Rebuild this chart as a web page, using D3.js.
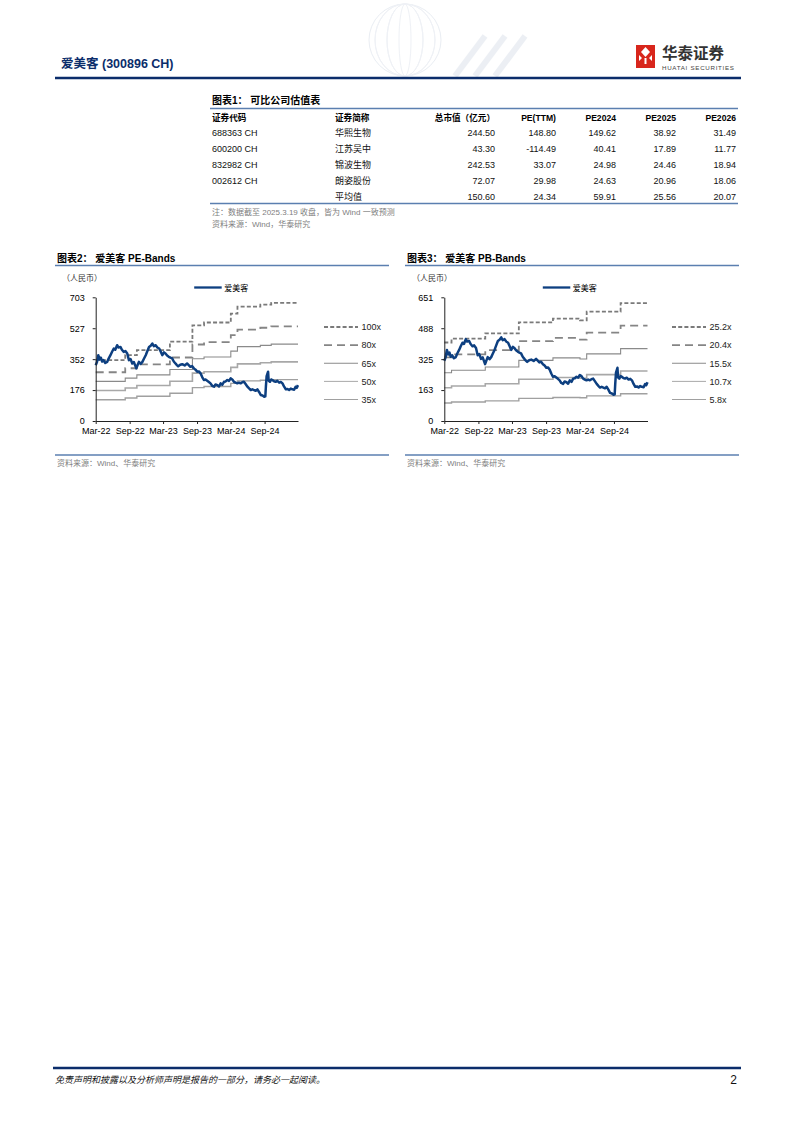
<!DOCTYPE html>
<html>
<head>
<meta charset="utf-8">
<script src="https://cdn.jsdelivr.net/npm/d3@7"></script>
<style>
  body{margin:0;background:#fff;}
  svg text{font-family:"Liberation Sans",Arial,"Noto Sans CJK SC",sans-serif;}
  .cjk{font-family:"Noto Sans CJK SC",sans-serif;}
</style>
<title>爱美客 估值</title>
</head>
<body>
<div id="page"></div>
<script>
// ---- table data
var tblHeads = ["证券代码", "证券简称", "总市值（亿元）", "PE(TTM)", "PE2024", "PE2025", "PE2026"];
var codes = ["688363 CH", "600200 CH", "832982 CH", "002612 CH", ""];
var names = ["华熙生物", "江苏吴中", "锦波生物", "朗姿股份", "平均值"];
var mktCap = ["244.50", "43.30", "242.53", "72.07", "150.60"];
var peTTM = ["148.80", "-114.49", "33.07", "29.98", "24.34"];
var pe2024 = ["149.62", "40.41", "24.98", "24.63", "59.91"];
var pe2025 = ["38.92", "17.89", "24.46", "20.96", "25.56"];
var pe2026 = ["31.49", "11.77", "18.94", "18.06", "20.07"];

// ---- price (same series in both charts)
var priceDates = ["2022-03-19","2022-03-26","2022-04-02","2022-04-09","2022-04-16","2022-04-23","2022-04-30","2022-05-10","2022-05-20","2022-05-28",
  "2022-06-07","2022-06-15","2022-06-25","2022-07-03","2022-07-13","2022-07-20","2022-07-31","2022-08-08","2022-08-18","2022-08-27",
  "2022-09-06","2022-09-15","2022-09-24","2022-10-03","2022-10-12","2022-10-25","2022-11-01","2022-11-08","2022-11-18","2022-11-27",
  "2022-12-06","2022-12-15","2022-12-24","2023-01-02","2023-01-11","2023-01-20","2023-01-28","2023-02-07","2023-02-16","2023-02-26",
  "2023-03-06","2023-03-15","2023-03-24","2023-04-01","2023-04-10","2023-04-19","2023-04-28","2023-05-07","2023-05-16","2023-05-25",
  "2023-06-02","2023-06-09","2023-06-20","2023-07-01","2023-07-14","2023-07-27","2023-08-05","2023-08-14","2023-08-23","2023-09-02",
  "2023-09-11","2023-09-20","2023-09-29","2023-10-08","2023-10-17","2023-10-26","2023-11-04","2023-11-13","2023-11-22","2023-12-01",
  "2023-12-10","2023-12-20","2023-12-28","2024-01-07","2024-01-16","2024-01-25","2024-02-03","2024-02-12","2024-02-21","2024-03-01",
  "2024-03-10","2024-03-19","2024-03-28","2024-04-06","2024-04-15","2024-04-24","2024-05-03","2024-05-12","2024-05-21","2024-05-30",
  "2024-06-08","2024-06-18","2024-06-27","2024-07-06","2024-07-15","2024-07-24","2024-08-02","2024-08-11","2024-08-20","2024-08-29",
  "2024-09-08","2024-09-17","2024-09-23","2024-09-26","2024-09-30","2024-10-08","2024-10-11","2024-10-18","2024-10-25","2024-10-31",
  "2024-11-09","2024-11-18","2024-11-27","2024-12-07","2024-12-16","2024-12-25","2025-01-03","2025-01-12","2025-01-21","2025-01-30",
  "2025-02-08","2025-02-17","2025-02-26","2025-03-06","2025-03-12","2025-03-19"];
var priceValues = [317,335,374,350,360,338,346,330,336,355,
  374,392,412,405,431,418,421,405,393,398,
  384,346,352,327,335,299,318,336,325,336,
  355,374,398,421,428,440,425,431,418,412,
  395,374,390,384,372,365,360,356,338,327,
  318,311,320,323,316,327,318,308,312,299,
  292,280,282,271,250,233,236,229,222,214,
  200,195,208,204,196,214,206,223,225,233,
  228,242,236,223,218,214,218,214,220,223,
  210,195,185,176,180,176,172,180,165,148,
  145,138,140,195,255,280,230,223,236,233,
  226,223,228,218,222,214,195,180,182,176,
  184,180,178,195,188,204];

// ---- PE bands (step values)
var peStepDates = ["2022-03-19","2022-08-26","2022-10-28","2023-04-25","2023-08-25","2023-10-27","2024-03-20","2024-04-25","2024-08-27","2024-10-25","2025-03-19"];
var pe100 = [346,375,403,451,544,560,610,650,662,672,672];
var pe80  = [277,300,322,361,435,448,488,520,530,538,538];
var pe65  = [225,244,262,293,354,364,397,423,430,437,437];
var pe50  = [173,188,202,226,272,280,305,325,331,336,336];
var pe35  = [121,131,141,158,190,196,214,228,232,235,235];
var peLabels = ["100x", "80x", "65x", "50x", "35x"];
var peTicks = [0, 175.8, 351.6, 527.4, 703.2];
var peTickLabels = ["0", "176", "352", "527", "703"];

// ---- PB bands (step values)
var pbStepDates = ["2022-03-19","2022-04-27","2022-10-26","2023-04-25","2023-10-26","2024-03-20","2024-04-25","2024-10-25","2025-03-19"];
var pb252 = [413,433,461,519,539,529,575,620,620];
var pb204 = [335,351,373,420,437,428,465,502,502];
var pb155 = [254,267,284,319,332,326,353,381,381];
var pb107 = [175,184,196,220,229,225,244,263,263];
var pb58  = [95,100,106,119,124,122,132,143,143];
var pbLabels = ["25.2x", "20.4x", "15.5x", "10.7x", "5.8x"];
var pbTicks = [0, 162.7, 325.4, 488.1, 650.8];
var pbTickLabels = ["0", "163", "325", "488", "651"];

var xTickDates = ["2022-03-19","2022-09-19","2023-03-19","2023-09-19","2024-03-19","2024-09-19"];
var dateStart = "2022-03-19", dateEnd = "2025-03-19";

var parse = d3.timeParse("%Y-%m-%d");
var navy = "#0b2d6b";
var lineBlue = "#0d3f80";
var ruleBlue = "#5b7fb0";

var svg = d3.select("#page").append("svg")
    .attr("width", 793).attr("height", 1122);

// ---------- page header
var glob = svg.append("g").attr("opacity", 0.55);
glob.append("circle").attr("cx", 405).attr("cy", 40).attr("r", 36)
    .attr("fill", "none").attr("stroke", "#d9e0ea").attr("stroke-width", 1);
[-24, -12, 0, 12, 24].forEach(function (o) {
    glob.append("ellipse").attr("cx", 405).attr("cy", 40).attr("rx", Math.abs(o) + 6).attr("ry", 36)
        .attr("fill", "none").attr("stroke", "#e2e7ef");
});
[455, 475, 495].forEach(function (x0) {
    glob.append("line").attr("x1", x0).attr("y1", 76).attr("x2", x0 + 30).attr("y2", 36)
        .attr("stroke", "#dde3ec").attr("stroke-width", 6);
});

svg.append("text").attr("x", 61).attr("y", 68)
    .attr("font-size", 12.5).attr("font-weight", "bold").attr("fill", navy)
    .text("爱美客 (300896 CH)");
svg.append("line").attr("x1", 55).attr("x2", 741).attr("y1", 78).attr("y2", 78)
    .attr("stroke", navy).attr("stroke-width", 2.5);

// logo
var logo = svg.append("g").attr("transform", "translate(636,45)");
logo.append("rect").attr("x", 0).attr("y", 0).attr("width", 19).attr("height", 19).attr("fill", "#d8261c");
logo.append("path").attr("d", "M9.5,2 L14,7 L9.5,12 L5,7 Z").attr("fill", "#fff");
logo.append("path").attr("d", "M3,10 L6,13 L3,16 Z M16,10 L13,13 L16,16 Z").attr("fill", "#fff");
logo.append("rect").attr("x", 8.5).attr("y", 13).attr("width", 2).attr("height", 6).attr("fill", "#fff");
logo.append("rect").attr("x", 0).attr("y", 19).attr("width", 19).attr("height", 4).attr("fill", "#d8261c");
svg.append("text").attr("class", "cjk").attr("x", 662).attr("y", 59)
    .attr("font-size", 15.5).attr("font-weight", "bold").attr("fill", "#333").text("华泰证券");
svg.append("text").attr("x", 662).attr("y", 70)
    .attr("font-size", 6.2).attr("fill", "#444").attr("textLength", 72).text("HUATAI SECURITIES");

// ---------- table
svg.append("text").attr("x", 212).attr("y", 104).attr("font-size", 10).attr("font-weight", "bold")
    .text("图表1：  可比公司估值表");
svg.append("line").attr("x1", 210).attr("x2", 738).attr("y1", 108.5).attr("y2", 108.5)
    .attr("stroke", ruleBlue).attr("stroke-width", 1.3);

var colX = [212, 335, 495, 556, 616, 676, 736];
var colAnchor = ["start", "start", "end", "end", "end", "end", "end"];
tblHeads.forEach(function (h, i) {
    svg.append("text").attr("x", colX[i]).attr("y", 120.5)
        .attr("text-anchor", colAnchor[i]).attr("font-size", 8.6).attr("font-weight", "bold")
        .text(h);
});
var rowY = d3.scaleBand().domain(d3.range(codes.length)).range([125, 205]);
var cols = [codes, names, mktCap, peTTM, pe2024, pe2025, pe2026];
cols.forEach(function (col, ci) {
    svg.selectAll(null).data(col).enter().append("text")
        .attr("x", colX[ci])
        .attr("y", function (d, i) { return rowY(i) + rowY.bandwidth() / 2 + 3.3; })
        .attr("text-anchor", colAnchor[ci])
        .attr("font-size", 9)
        .attr("class", ci === 1 ? "cjk" : null)
        .attr("fill", "#111")
        .text(function (d) { return d; });
});
svg.append("line").attr("x1", 210).attr("x2", 738).attr("y1", 203.5).attr("y2", 203.5)
    .attr("stroke", ruleBlue).attr("stroke-width", 1.3);
svg.append("text").attr("x", 212).attr("y", 215).attr("font-size", 8).attr("fill", "#808080")
    .text("注：数据截至 2025.3.19 收盘，皆为 Wind 一致预测");
svg.append("text").attr("x", 212).attr("y", 227).attr("font-size", 8).attr("fill", "#808080")
    .text("资料来源：Wind，华泰研究");

// ---------- band charts
var bandStyles = [
    { color: "#7a7a7a", width: 1.8, dash: "4,2.2" },
    { color: "#858585", width: 1.8, dash: "8,5" },
    { color: "#8a8a8a", width: 1.1, dash: null },
    { color: "#a8a8a8", width: 1.6, dash: null },
    { color: "#a0a0a0", width: 1.4, dash: null }
];

function drawChart(o) {
    var g = svg.append("g");
    // title and rules
    g.append("text").attr("x", o.left + 2).attr("y", 262).attr("font-size", 10).attr("font-weight", "bold")
        .text(o.title);
    g.append("line").attr("x1", o.left).attr("x2", o.left + 334).attr("y1", 265.5).attr("y2", 265.5)
        .attr("stroke", ruleBlue).attr("stroke-width", 1.3);
    g.append("text").attr("x", o.left + 7).attr("y", 280.5).attr("font-size", 8).attr("fill", "#333")
        .text("（人民币）");

    var x = d3.scaleTime().domain([parse(dateStart), parse(dateEnd)]).range([o.x0, o.x1]);
    var y = d3.scaleLinear().domain([0, o.ticks[o.ticks.length - 1]]).range([421, 297.3]);

    var stepLine = d3.line().curve(d3.curveStepAfter)
        .x(function (d) { return x(d.date); }).y(function (d) { return y(d.v); });
    o.bands.forEach(function (arr, k) {
        var data = o.stepDates.map(function (s, i) { return { date: parse(s), v: arr[i] }; });
        var st = bandStyles[k];
        g.append("path").datum(data).attr("d", stepLine)
            .attr("fill", "none").attr("stroke", st.color).attr("stroke-width", st.width)
            .attr("stroke-dasharray", st.dash);
    });

    var priceData = priceDates.map(function (s, i) { return { date: parse(s), v: priceValues[i] }; });
    g.append("path").datum(priceData)
        .attr("d", d3.line().x(function (d) { return x(d.date); }).y(function (d) { return y(d.v); }))
        .attr("fill", "none").attr("stroke", lineBlue).attr("stroke-width", 2.5)
        .attr("stroke-linejoin", "round");

    // axes
    var ya = g.append("g").attr("transform", "translate(" + o.x0 + ",0)")
        .call(d3.axisLeft(y).tickValues(o.ticks).tickFormat(function (d, i) { return o.tickLabels[i]; })
            .tickSize(3).tickSizeOuter(0).tickPadding(8));
    var xa = g.append("g").attr("transform", "translate(0,421)")
        .call(d3.axisBottom(x).tickValues(xTickDates.map(parse)).tickFormat(d3.timeFormat("%b-%y"))
            .tickSize(3).tickSizeOuter(0).tickPadding(4));
    [ya, xa].forEach(function (a) {
        a.selectAll("text").attr("font-size", 9).attr("fill", "#000")
            .attr("font-family", "'Liberation Sans', Arial, sans-serif");
        a.selectAll("line").attr("stroke", "#222");
        a.select(".domain").attr("stroke", "#222");
    });

    // legend for price line
    g.append("line").attr("x1", o.x0 + 98.5).attr("x2", o.x0 + 126).attr("y1", 287.5).attr("y2", 287.5)
        .attr("stroke", lineBlue).attr("stroke-width", 2.3);
    g.append("text").attr("class", "cjk").attr("x", o.x0 + 128.5).attr("y", 290.5).attr("font-size", 8)
        .text("爱美客");

    // legend for bands
    var ly = d3.scaleLinear().domain([0, 4]).range([327, 399.5]);
    o.labels.forEach(function (lab, k) {
        var st = bandStyles[k];
        g.append("line").attr("x1", o.legX).attr("x2", o.legX + 34).attr("y1", ly(k)).attr("y2", ly(k))
            .attr("stroke", st.color).attr("stroke-width", k < 2 ? 1.8 : 1)
            .attr("stroke-dasharray", st.dash);
        g.append("text").attr("x", o.legX + 37.5).attr("y", ly(k) + 3.3).attr("font-size", 9)
            .attr("fill", "#222").text(lab);
    });

    // source
    g.append("line").attr("x1", o.left).attr("x2", o.left + 334).attr("y1", 455).attr("y2", 455)
        .attr("stroke", ruleBlue).attr("stroke-width", 1.3);
    g.append("text").attr("x", o.left + 2).attr("y", 466).attr("font-size", 8).attr("fill", "#808080")
        .text("资料来源：Wind、华泰研究");
}

drawChart({
    left: 55, title: "图表2：  爱美客 PE-Bands", x0: 95.7, x1: 298,
    ticks: peTicks, tickLabels: peTickLabels, stepDates: peStepDates,
    bands: [pe100, pe80, pe65, pe50, pe35], labels: peLabels, legX: 324
});
drawChart({
    left: 405, title: "图表3：  爱美客 PB-Bands", x0: 444.3, x1: 647.5,
    ticks: pbTicks, tickLabels: pbTickLabels, stepDates: pbStepDates,
    bands: [pb252, pb204, pb155, pb107, pb58], labels: pbLabels, legX: 672
});

// ---------- footer
svg.append("line").attr("x1", 53).attr("x2", 741).attr("y1", 1068).attr("y2", 1068)
    .attr("stroke", navy).attr("stroke-width", 2.5);
svg.append("text").attr("x", 55).attr("y", 1083).attr("font-size", 9).attr("font-style", "italic")
    .attr("fill", "#111").text("免责声明和披露以及分析师声明是报告的一部分，请务必一起阅读。");
svg.append("text").attr("x", 737).attr("y", 1084).attr("text-anchor", "end").attr("font-size", 12)
    .attr("fill", "#111").text("2");
</script>
</body>
</html>
